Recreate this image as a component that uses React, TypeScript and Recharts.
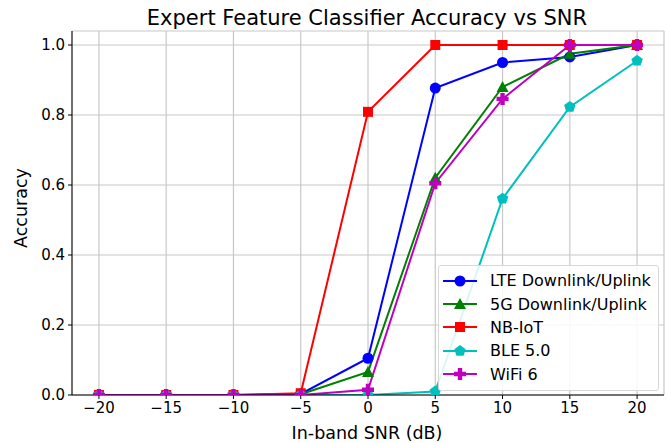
import { LineChart, Line, XAxis, YAxis, CartesianGrid } from "recharts";

const snr = [-20, -15, -10, -5, 0, 5, 10, 15, 20];
const lte = [0, 0, 0, 0.003, 0.105, 0.877, 0.95, 0.966, 1.0];
const g5 = [0, 0, 0, 0.002, 0.066, 0.621, 0.88, 0.975, 1.0];
const nbiot = [0, 0, 0, 0.005, 0.809, 1.0, 1.0, 1.0, 1.0];
const ble = [0, 0, 0, 0, 0, 0.01, 0.561, 0.823, 0.955];
const wifi = [0, 0, 0, 0, 0.015, 0.605, 0.846, 1.0, 1.0];

const xTicks = [-20, -15, -10, -5, 0, 5, 10, 15, 20];
const yTicks = [0, 0.2, 0.4, 0.6, 0.8, 1.0];

const SERIES = [
  { key: "lte", name: "LTE Downlink/Uplink", color: "#0000ff", marker: "circle" },
  { key: "g5", name: "5G Downlink/Uplink", color: "#008000", marker: "triangle" },
  { key: "nbiot", name: "NB-IoT", color: "#ff0000", marker: "square" },
  { key: "ble", name: "BLE 5.0", color: "#00bfbf", marker: "pentagon" },
  { key: "wifi", name: "WiFi 6", color: "#bf00bf", marker: "plus" },
];

const data = snr.map((x, i) => ({
  x,
  lte: lte[i],
  g5: g5[i],
  nbiot: nbiot[i],
  ble: ble[i],
  wifi: wifi[i],
}));

const FONT = "DejaVu Sans, sans-serif";

const markerPath = (marker: string, cx: number, cy: number, color: string) => {
  const r = 5.5;
  if (marker === "circle") return <circle cx={cx} cy={cy} r={r} fill={color} />;
  if (marker === "square")
    return <rect x={cx - 5} y={cy - 5} width={10} height={10} fill={color} />;
  if (marker === "triangle")
    return (
      <polygon
        points={`${cx},${cy - 6} ${cx - 6},${cy + 5} ${cx + 6},${cy + 5}`}
        fill={color}
      />
    );
  if (marker === "pentagon") {
    const pts = [0, 1, 2, 3, 4]
      .map((k) => {
        const a = -Math.PI / 2 + (k * 2 * Math.PI) / 5;
        return `${cx + 6 * Math.cos(a)},${cy + 6 * Math.sin(a)}`;
      })
      .join(" ");
    return <polygon points={pts} fill={color} />;
  }
  // filled plus
  const a = 6;
  const b = 2.2;
  return (
    <polygon
      points={`${cx - b},${cy - a} ${cx + b},${cy - a} ${cx + b},${cy - b} ${cx + a},${cy - b} ${cx + a},${cy + b} ${cx + b},${cy + b} ${cx + b},${cy + a} ${cx - b},${cy + a} ${cx - b},${cy + b} ${cx - a},${cy + b} ${cx - a},${cy - b} ${cx - b},${cy - b}`}
      fill={color}
    />
  );
};

const makeDot = (marker: string, color: string) => (props: any) => {
  const { cx, cy, index } = props;
  if (cx == null || cy == null) return <g key={index} />;
  return <g key={index}>{markerPath(marker, cx, cy, color)}</g>;
};

const fmtX = (v: number) => (v < 0 ? `\u2212${Math.abs(v)}` : `${v}`);

export default function App() {
  return (
    <div style={{ position: "absolute", left: 0, top: 0, width: 667, height: 443, background: "#fff", fontFamily: FONT }}>
      <div
        style={{
          position: "absolute",
          left: 70,
          width: 594,
          top: 8,
          textAlign: "center",
          fontSize: 21,
          lineHeight: 1,
          color: "#000",
          whiteSpace: "nowrap",
        }}
      >
        Expert Feature Classifier Accuracy vs SNR
      </div>
      <div
        style={{
          position: "absolute",
          left: 70,
          width: 594,
          top: 425,
          textAlign: "center",
          fontSize: 17.5,
          lineHeight: 1,
          color: "#000",
        }}
      >
        In-band SNR (dB)
      </div>
      <div
        style={{
          position: "absolute",
          left: 22,
          top: 208,
          transform: "translate(-50%, -50%) rotate(-90deg)",
          fontSize: 17.5,
          lineHeight: 1,
          color: "#000",
          whiteSpace: "nowrap",
        }}
      >
        Accuracy
      </div>
      <LineChart
        width={667}
        height={443}
        data={data}
        margin={{ top: 31, right: 3, bottom: 18, left: 28 }}
      >
        <CartesianGrid stroke="#c8c8c8" strokeWidth={1.2} />
        <XAxis
          dataKey="x"
          type="number"
          domain={[-22, 22]}
          ticks={xTicks}
          tickFormatter={fmtX}
          allowDataOverflow
          height={30}
          stroke="#000"
          tick={{ fill: "#000", fontSize: 15, fontFamily: FONT }}
          tickSize={4}
          tickMargin={3}
          interval={0}
        />
        <XAxis
          xAxisId="top"
          orientation="top"
          dataKey="x"
          type="number"
          domain={[-22, 22]}
          height={0}
          tick={false}
          tickLine={false}
          stroke="#000"
        />
        <YAxis
          type="number"
          domain={[0, 1.04]}
          ticks={yTicks}
          allowDataOverflow
          tickFormatter={(v: number) => v.toFixed(1)}
          width={44}
          stroke="#000"
          tick={{ fill: "#000", fontSize: 15, fontFamily: FONT }}
          tickSize={4}
          tickMargin={3}
          interval={0}
        />
        <YAxis
          yAxisId="right"
          orientation="right"
          type="number"
          domain={[0, 1.04]}
          width={0}
          tick={false}
          tickLine={false}
          stroke="#000"
        />
        {SERIES.map((s) => (
          <Line
            key={s.key}
            dataKey={s.key}
            name={s.name}
            stroke={s.color}
            strokeWidth={2}
            dot={makeDot(s.marker, s.color)}
            activeDot={false}
            isAnimationActive={false}
            type="linear"
          />
        ))}
      </LineChart>
      <div
        style={{
          position: "absolute",
          left: 438,
          top: 265,
          width: 221,
          height: 126,
          background: "rgba(255,255,255,0.85)",
          border: "1px solid #d8d8d8",
          borderRadius: 3,
          boxSizing: "border-box",
          paddingTop: 3,
        }}
      >
        {SERIES.map((s) => (
          <div key={s.key} style={{ display: "flex", alignItems: "center", height: 23.4, fontSize: 16, color: "#000" }}>
            <svg width={50} height={14} style={{ flex: "none" }}>
              <line x1={4} y1={7} x2={38} y2={7} stroke={s.color} strokeWidth={2} />
              {markerPath(s.marker, 21, 7, s.color)}
            </svg>
            <span style={{ marginLeft: 1, whiteSpace: "nowrap" }}>{s.name}</span>
          </div>
        ))}
      </div>
    </div>
  );
}
